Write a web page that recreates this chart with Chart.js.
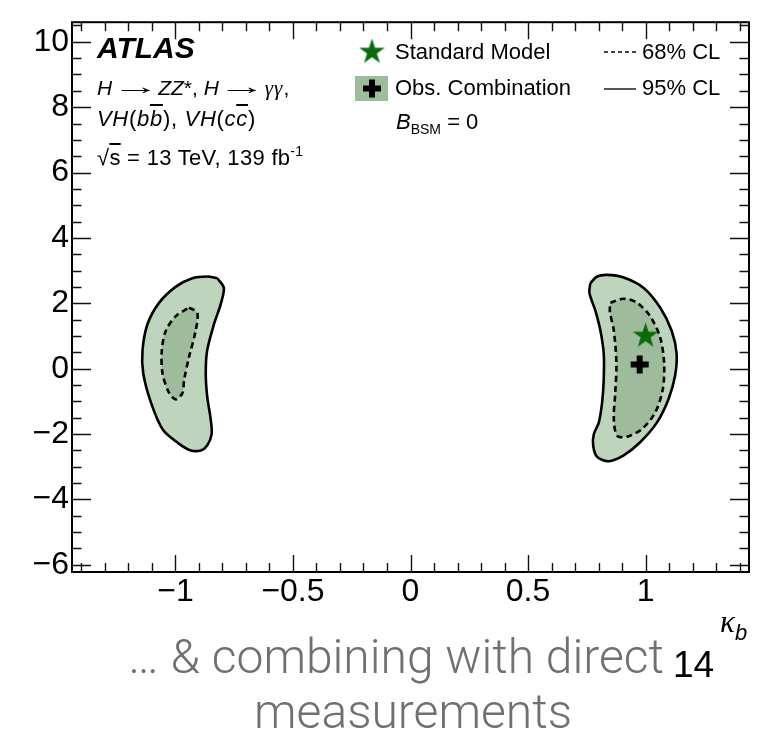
<!DOCTYPE html>
<html>
<head>
<meta charset="utf-8">
<script src="https://cdn.jsdelivr.net/npm/chart.js@4.4.1/dist/chart.umd.min.js"></script>
<style>
  body { margin: 0; background: #fff; }
  #wrap { position: relative; width: 764px; height: 738px; font-family: "Liberation Sans", Arial, sans-serif; }
  #plot { position: absolute; left: 0; top: 0; }
  .t { position: absolute; white-space: nowrap; line-height: 1; color: #000; }
  .ol { text-decoration: overline; }
  .gr { font-family: "Liberation Serif", "DejaVu Serif", serif; }
  .arr { display: inline-block; width: 32px; text-align: center; margin: 0 7px; }
  .arr span { display: inline-block; transform: translateY(-2px) scale(2.3, 1.1); }
  .note { position: absolute; white-space: nowrap; line-height: 1; color: #707070; font-family: Roboto, "Liberation Sans", sans-serif; font-weight: 300; font-size: 48px; }
</style>
</head>
<body>
<div id="wrap">
  <canvas id="plot" width="764" height="738"></canvas>

  <div class="t" style="left:97px; top:33px; font-size:30px; font-weight:bold; font-style:italic;">ATLAS</div>
  <div class="t" style="left:97px; top:77px; font-size:21px;"><i>H</i><span class="arr"><span>&rarr;</span></span><i>ZZ</i>*, <i>H</i><span class="arr"><span>&rarr;</span></span><i class="gr" style="letter-spacing:1px;">&gamma;&gamma;</i>,</div>
  <div class="t" style="left:97px; top:108px; font-size:22px; letter-spacing:0.7px;"><i>VH</i>(<i>b<span class="ol">b</span></i>), <i>VH</i>(<i>c<span class="ol">c</span></i>)</div>
  <div class="t" style="left:97px; top:147px; font-size:22px; letter-spacing:0.3px;">&radic;<span class="ol">s</span> = 13 TeV, 139 fb<span style="font-size:14px; position:relative; top:-9px;">-1</span></div>

  <div class="t" style="left:395px; top:41px; font-size:22px;">Standard Model</div>
  <div class="t" style="left:395px; top:77px; font-size:22px;">Obs. Combination</div>
  <div class="t" style="left:396px; top:111px; font-size:22px;"><i>B</i><span style="font-size:14px; position:relative; top:5px;">BSM</span> = 0</div>
  <div class="t" style="left:642px; top:41px; font-size:22px;">68% CL</div>
  <div class="t" style="left:642px; top:77px; font-size:22px;">95% CL</div>

  <div class="t" style="left:720px; top:606px; font-size:31px;"><i class="gr">&kappa;</i><i style="font-size:22px; position:relative; top:8px;">b</i></div>
  <div class="t" style="left:673px; top:646px; font-size:37px;">14</div>

  <div class="note" style="left:128px; top:633px;">&hellip; &amp; combining with direct</div>
  <div class="note" style="left:0; width:826px; text-align:center; top:688px;">measurements</div>
</div>

<script>
// axis ranges and labelled ticks
const xRange = [-1.44, 1.44];
const yRange = [-6.22, 10.6];
const xTickVals = [-1, -0.5, 0, 0.5, 1];
const yTickVals = [-6, -4, -2, 0, 2, 4, 6, 8, 10];

// 95% CL contours (kappa_b, kappa_c)
const left95 = [
  [-0.822, 2.77], [-0.794, 2.47], [-0.808, 1.96], [-0.836, 1.36], [-0.865, 0.56],
  [-0.871, -0.14], [-0.865, -0.84], [-0.850, -1.55], [-0.846, -2.00], [-0.865, -2.35],
  [-0.892, -2.50], [-0.935, -2.50], [-0.984, -2.30], [-1.055, -1.85], [-1.104, -1.04],
  [-1.137, -0.14], [-1.140, 0.56], [-1.119, 1.36], [-1.069, 2.02], [-0.998, 2.51],
  [-0.928, 2.77], [-0.865, 2.82], [-0.822, 2.77]
];
const right95 = [
  [0.765, 2.62], [0.794, 2.82], [0.836, 2.87], [0.907, 2.79], [0.992, 2.47],
  [1.062, 1.87], [1.111, 1.16], [1.132, 0.46], [1.125, -0.24], [1.097, -0.94],
  [1.048, -1.65], [0.977, -2.25], [0.907, -2.65], [0.843, -2.83], [0.794, -2.70],
  [0.777, -2.35], [0.780, -2.00], [0.801, -1.65], [0.815, -1.04], [0.822, -0.34],
  [0.822, 0.46], [0.808, 1.16], [0.787, 1.76], [0.761, 2.32], [0.765, 2.62]
];

// 68% CL contours
const left68 = [
  [-0.942, 1.87], [-0.907, 1.71], [-0.914, 1.16], [-0.942, 0.36], [-0.963, -0.34],
  [-0.970, -0.74], [-0.998, -0.94], [-1.027, -0.74], [-1.055, -0.14], [-1.058, 0.56],
  [-1.041, 1.16], [-0.998, 1.61], [-0.942, 1.87]
];
const right68 = [
  [0.850, 2.02], [0.907, 2.14], [0.963, 2.02], [1.019, 1.61], [1.062, 0.96],
  [1.079, 0.16], [1.073, -0.64], [1.041, -1.34], [0.984, -1.85], [0.921, -2.08],
  [0.879, -2.05], [0.865, -1.55], [0.871, -0.74], [0.876, 0.16], [0.865, 1.16],
  [0.848, 1.76], [0.850, 2.02]
];

// best fit and SM expectation
const bestFit = [0.975, 0.13];
const smPoint = [1, 1];

const fill95 = '#bed4bc';
const fill68 = '#9ebc9b';
const starGreen = '#0b6b0b';
const fontFam = '"Liberation Sans", Arial, sans-serif';

const toXY = pts => pts.map(p => ({ x: p[0], y: p[1] }));

// filled five-point star used as a marker
function makeStar(size, color) {
  const c = document.createElement('canvas');
  c.width = size; c.height = size;
  const g = c.getContext('2d');
  const R = size / 2, r = R * 0.382;
  g.beginPath();
  for (let i = 0; i < 10; i++) {
    const a = -Math.PI / 2 + i * Math.PI / 5;
    const rad = i % 2 === 0 ? R : r;
    g.lineTo(R + rad * Math.cos(a), R + rad * Math.sin(a));
  }
  g.closePath();
  g.fillStyle = color;
  g.fill();
  return c;
}
const starImg = makeStar(27, starGreen);

function contour(pts, color, dashed, order) {
  return {
    type: 'line',
    data: toXY(pts),
    borderColor: '#000',
    borderWidth: 2.6,
    borderDash: dashed ? [6, 4] : [],
    backgroundColor: color,
    fill: 'shape',
    tension: 0.3,
    pointRadius: 0,
    order: order
  };
}

// frame with inward ticks on all four sides
const frameTicks = {
  id: 'frameTicks',
  afterDatasetsDraw(chart) {
    const { ctx, chartArea: a, scales: { x, y } } = chart;
    ctx.save();
    ctx.strokeStyle = '#111';
    ctx.lineWidth = 1.4;
    ctx.beginPath();
    for (let k = -14; k <= 14; k++) {
      const px = Math.round(x.getPixelForValue(k / 10)) + 0.5;
      const len = k % 5 === 0 ? 17 : 9;
      ctx.moveTo(px, a.bottom); ctx.lineTo(px, a.bottom - len);
      ctx.moveTo(px, a.top); ctx.lineTo(px, a.top + len);
    }
    for (let k = -12; k <= 21; k++) {
      const v = k / 2;
      if (v < y.min || v > y.max) continue;
      const py = Math.round(y.getPixelForValue(v)) + 0.5;
      const len = k % 4 === 0 ? 19 : 9.5;
      ctx.moveTo(a.left, py); ctx.lineTo(a.left + len, py);
      ctx.moveTo(a.right, py); ctx.lineTo(a.right - len, py);
    }
    ctx.stroke();
    ctx.strokeStyle = '#000';
    ctx.lineWidth = 2;
    ctx.strokeRect(a.left, a.top, a.width, a.height);

    // legend markers
    ctx.drawImage(starImg, 372 - 13.5, 52 - 13.5);
    ctx.fillStyle = fill68;
    ctx.fillRect(355, 76, 33, 25);
    ctx.strokeStyle = '#000';
    ctx.lineWidth = 6;
    ctx.beginPath();
    ctx.moveTo(363, 88.5); ctx.lineTo(381, 88.5);
    ctx.moveTo(372, 79.5); ctx.lineTo(372, 97.5);
    ctx.stroke();
    ctx.lineWidth = 2;
    ctx.strokeStyle = '#444';
    ctx.setLineDash([4, 3]);
    ctx.beginPath(); ctx.moveTo(604, 52); ctx.lineTo(636, 52); ctx.stroke();
    ctx.setLineDash([]);
    ctx.strokeStyle = '#555';
    ctx.beginPath(); ctx.moveTo(604, 89); ctx.lineTo(636, 89); ctx.stroke();
    ctx.restore();
  }
};

const fmt = v => (v < 0 ? '\u2212' + Math.abs(v) : String(v));

new Chart(document.getElementById('plot'), {
  type: 'scatter',
  data: {
    datasets: [
      {
        data: toXY([smPoint]),
        pointStyle: starImg,
        pointRadius: 13,
        order: 0
      },
      {
        data: toXY([bestFit]),
        pointStyle: 'cross',
        pointRadius: 9,
        borderWidth: 6,
        borderColor: '#000',
        order: 0
      },
      contour(left68, fill68, true, 1),
      contour(right68, fill68, true, 1),
      contour(left95, fill95, false, 2),
      contour(right95, fill95, false, 2)
    ]
  },
  options: {
    responsive: false,
    animation: false,
    layout: { padding: { top: 13, right: 12, left: 0, bottom: 0 } },
    plugins: { legend: { display: false }, tooltip: { enabled: false } },
    scales: {
      x: {
        type: 'linear',
        min: xRange[0], max: xRange[1],
        grid: { display: false, drawTicks: false },
        border: { display: false },
        ticks: { color: '#000', font: { family: fontFam, size: 32 }, padding: 1, maxRotation: 0, callback: fmt },
        afterBuildTicks: s => { s.ticks = xTickVals.map(v => ({ value: v })); },
        afterFit: s => { s.height = 166; }
      },
      y: {
        type: 'linear',
        min: yRange[0], max: yRange[1],
        grid: { display: false, drawTicks: false },
        border: { display: false },
        ticks: { color: '#000', font: { family: fontFam, size: 32 }, padding: 3, callback: fmt },
        afterBuildTicks: s => { s.ticks = yTickVals.map(v => ({ value: v })); },
        afterFit: s => { s.width = 72; }
      }
    }
  },
  plugins: [frameTicks]
});
</script>
</body>
</html>
